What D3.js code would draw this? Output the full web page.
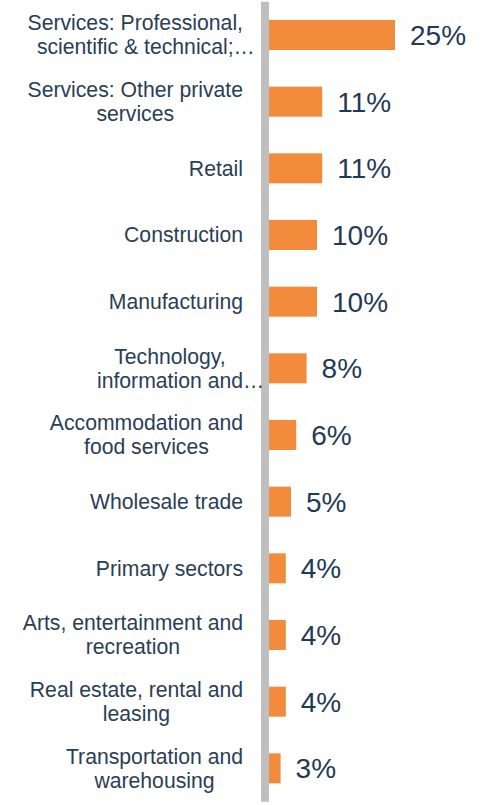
<!DOCTYPE html>
<html>
<head>
<meta charset="utf-8">
<script src="https://cdn.jsdelivr.net/npm/d3@7"></script>
<style>
  html, body { margin: 0; padding: 0; background: #ffffff; }
  svg { display: block; }
  text { font-family: "Liberation Sans", Arial, sans-serif; }
</style>
</head>
<body>
<svg id="chart" width="485" height="805"></svg>
<script>
// Share of businesses by industry (%)
const categories = [
  "Services: Professional,\nscientific & technical;…",
  "Services: Other private\nservices",
  "Retail",
  "Construction",
  "Manufacturing",
  "Technology,\ninformation and…",
  "Accommodation and\nfood services",
  "Wholesale trade",
  "Primary sectors",
  "Arts, entertainment and\nrecreation",
  "Real estate, rental and\nleasing",
  "Transportation and\nwarehousing"
];
const values = [25, 11, 11, 10, 10, 8, 6, 5, 4, 4, 4, 3];

const svg = d3.select("#chart");

const x = d3.scaleLinear().domain([0, 25]).range([265, 395]);
const y = d3.scaleBand()
  .domain(categories)
  .range([1.67, 801.67])
  .paddingInner(0.55)
  .paddingOuter(0.275);

const barColor = "#F28B3B";
const axisColor = "#BFBFBF";
const valueColor = "#1F3A55";
const labelColor = "#2A3E55";
const labelSize = 21.2;
const lineHeight = 24;
const labelRight = 243;

// bars
svg.append("g")
  .selectAll("rect")
  .data(values)
  .join("rect")
  .attr("x", x(0))
  .attr("y", (d, i) => y(categories[i]))
  .attr("width", d => x(d) - x(0))
  .attr("height", y.bandwidth())
  .attr("fill", barColor);

// vertical category axis line
svg.append("line")
  .attr("x1", x(0)).attr("x2", x(0))
  .attr("y1", y.range()[0]).attr("y2", y.range()[1])
  .attr("stroke", axisColor)
  .attr("stroke-width", 8);

// value labels
svg.append("g")
  .selectAll("text")
  .data(values)
  .join("text")
  .attr("x", d => x(d) + 15)
  .attr("y", (d, i) => y(categories[i]) + y.bandwidth() / 2)
  .attr("dy", "0.36em")
  .attr("font-size", 28)
  .attr("fill", valueColor)
  .text(d => d + "%");

// category labels: lines centred on each other, block right-aligned to the axis;
// a trailing ellipsis hangs past the block edge
const measure = svg.append("text").attr("font-size", labelSize).attr("visibility", "hidden");
function widthOf(s) {
  measure.text(s);
  return measure.node().getComputedTextLength();
}

const labelG = svg.append("g");
categories.forEach(cat => {
  const lines = cat.split("\n");
  const bare = lines.map(l => l.replace(/…$/, ""));
  const widths = bare.map(widthOf);
  const block = d3.max(widths);
  const cx = labelRight - block / 2;
  const yc = y(cat) + y.bandwidth() / 2;
  const n = lines.length;
  lines.forEach((line, i) => {
    labelG.append("text")
      .attr("x", cx - widths[i] / 2)
      .attr("y", yc + (i - (n - 1) / 2) * lineHeight)
      .attr("dy", "0.35em")
      .attr("font-size", labelSize)
      .attr("fill", labelColor)
      .text(line);
  });
});
measure.remove();
</script>
</body>
</html>
